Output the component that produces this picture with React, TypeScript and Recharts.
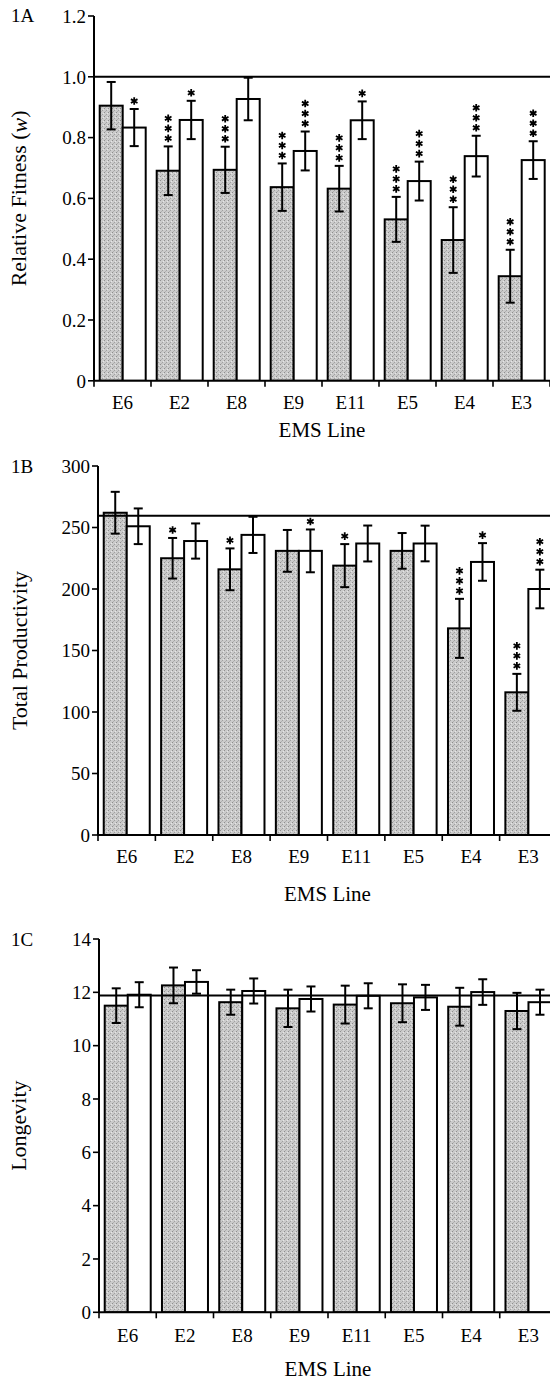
import React from 'react';
import { BarChart, Bar, XAxis, YAxis, ErrorBar, ReferenceLine } from 'recharts';

// EMS lines, in plotted order
const lines = ['E6', 'E2', 'E8', 'E9', 'E11', 'E5', 'E4', 'E3'];

// 1A relative fitness (w)
const fitGray = [0.905, 0.691, 0.694, 0.637, 0.632, 0.531, 0.463, 0.344];
const fitGrayErr = [0.078, 0.08, 0.076, 0.078, 0.075, 0.074, 0.108, 0.087];
const fitGrayStars = [0, 3, 3, 3, 3, 3, 3, 3];
const fitWhite = [0.833, 0.858, 0.927, 0.756, 0.857, 0.657, 0.739, 0.726];
const fitWhiteErr = [0.061, 0.063, 0.07, 0.064, 0.062, 0.064, 0.067, 0.062];
const fitWhiteStars = [1, 1, 0, 3, 1, 3, 3, 3];
const fitRef = 1.0;
const fitTicks = [0, 0.2, 0.4, 0.6, 0.8, 1.0, 1.2];

// 1B total productivity
const prodGray = [262, 225, 216, 231, 219, 231, 168, 116];
const prodGrayErr = [17, 16.5, 17, 17, 17.5, 14.5, 24, 15];
const prodGrayStars = [0, 1, 1, 0, 1, 0, 3, 3];
const prodWhite = [251, 239, 244, 231, 237, 237, 222, 200];
const prodWhiteErr = [14.5, 14.3, 14.7, 17.4, 14.6, 14.5, 15.3, 15.7];
const prodWhiteStars = [0, 0, 0, 1, 0, 0, 1, 3];
const prodRef = 259.5;
const prodTicks = [0, 50, 100, 150, 200, 250, 300];

// 1C longevity
const lonGray = [11.5, 12.26, 11.63, 11.4, 11.54, 11.59, 11.46, 11.3];
const lonGrayErr = [0.65, 0.67, 0.47, 0.7, 0.71, 0.71, 0.71, 0.68];
const lonWhite = [11.91, 12.39, 12.05, 11.75, 11.87, 11.81, 12.01, 11.63];
const lonWhiteErr = [0.47, 0.44, 0.47, 0.47, 0.47, 0.47, 0.48, 0.47];
const lonNoStars = [0, 0, 0, 0, 0, 0, 0, 0];
const lonRef = 11.88;
const lonTicks = [0, 2, 4, 6, 8, 10, 12, 14];

const FONT = '"Liberation Serif", "Times New Roman", serif';

const buildRows = (
  g: number[], gErr: number[], gStars: number[],
  w: number[], wErr: number[], wStars: number[]
) =>
  lines.map((name, i) => ({
    name,
    g: g[i], gErr: gErr[i], gStars: gStars[i],
    w: w[i], wErr: wErr[i], wStars: wStars[i],
  }));

function Star({ cx, cy }: { cx: number; cy: number }) {
  const r = 3.8;
  const d = [90, 30, 150]
    .map((a) => {
      const rad = (a * Math.PI) / 180;
      const dx = r * Math.cos(rad);
      const dy = r * Math.sin(rad);
      return `M${cx - dx},${cy - dy}L${cx + dx},${cy + dy}`;
    })
    .join('');
  return <path d={d} stroke="#000" strokeWidth={1.8} fill="none" />;
}

// bar rect plus significance stars above the error bar
const barShape = (valueKey: string, errKey: string, starKey: string, fill: string) => (props: any) => {
  const { x, y, width, height, payload } = props;
  const v = payload[valueKey];
  const k = v ? height / v : 0;
  const errTop = y - payload[errKey] * k;
  const n = payload[starKey] || 0;
  const cx = x + width / 2;
  return (
    <g>
      <rect x={x} y={y} width={width} height={height} fill={fill} stroke="#000" strokeWidth={2} />
      {Array.from({ length: n }, (_, j) => (
        <Star key={j} cx={cx} cy={errTop - 8 - j * 10} />
      ))}
    </g>
  );
};

// category label in the middle, tick marks on category boundaries
const xTick = (band: number, baseline: number) => (props: any) => {
  const { x, y, payload, index } = props;
  const axisY = y - 6;
  const last = index === lines.length - 1;
  return (
    <g>
      <line x1={x - band / 2} x2={x - band / 2} y1={axisY} y2={axisY + 6} stroke="#000" strokeWidth={1.6} />
      {last && (
        <line x1={x + band / 2} x2={x + band / 2} y1={axisY} y2={axisY + 6} stroke="#000" strokeWidth={1.6} />
      )}
      <text x={x} y={axisY + baseline} textAnchor="middle" fontSize={19} fontFamily={FONT} fill="#000">
        {payload.value}
      </text>
    </g>
  );
};

const yTitle = (content: React.ReactNode) => (props: any) => {
  const vb = props.viewBox || { y: 0, height: 0 };
  const cy = vb.y + vb.height / 2;
  return (
    <text
      x={19}
      y={cy}
      transform={`rotate(-90 19 ${cy})`}
      textAnchor="middle"
      dominantBaseline="central"
      fontSize={22}
      fontFamily={FONT}
      fill="#000"
    >
      {content}
    </text>
  );
};

interface PanelProps {
  top: number;
  width: number;
  axisX: number;
  plotH: number;
  axisH: number;
  tickBaseline: number;
  titleOffset: number;
  domain: [number, number];
  ticks: number[];
  fmt: (v: number) => string;
  refY: number;
  rows: any[];
  title: React.ReactNode;
}

function Panel(p: PanelProps) {
  const marginTop = 16;
  const band = (p.width - p.axisX) / lines.length;
  return (
    <div style={{ position: 'absolute', left: 0, top: p.top - marginTop }}>
      <BarChart
        width={p.width}
        height={marginTop + p.plotH + p.axisH}
        data={p.rows}
        margin={{ top: marginTop, right: 0, bottom: 0, left: 0 }}
        barCategoryGap="10%"
        barGap={0}
      >
        <XAxis
          dataKey="name"
          height={p.axisH}
          tickLine={false}
          tickSize={6}
          tickMargin={0}
          interval={0}
          axisLine={{ stroke: '#000', strokeWidth: 2 }}
          tick={xTick(band, p.tickBaseline)}
          label={{
            value: 'EMS Line',
            position: 'insideBottom',
            offset: p.titleOffset,
            fontSize: 21,
            fontFamily: FONT,
            fill: '#000',
          }}
        />
        <YAxis
          width={p.axisX}
          domain={p.domain}
          ticks={p.ticks}
          tickFormatter={p.fmt}
          allowDataOverflow
          tickSize={6}
          tickMargin={2}
          axisLine={{ stroke: '#000', strokeWidth: 2 }}
          tickLine={{ stroke: '#000', strokeWidth: 1.6 }}
          tick={{ fontSize: 19, fontFamily: FONT, fill: '#000' }}
          label={yTitle(p.title)}
        />
        <ReferenceLine y={p.refY} stroke="#000" strokeWidth={2} />
        <Bar dataKey="g" isAnimationActive={false} shape={barShape('g', 'gErr', 'gStars', 'url(#stipple)')}>
          <ErrorBar dataKey="gErr" width={4.5} strokeWidth={2} stroke="#000" direction="y" />
        </Bar>
        <Bar dataKey="w" isAnimationActive={false} shape={barShape('w', 'wErr', 'wStars', '#fff')}>
          <ErrorBar dataKey="wErr" width={4.5} strokeWidth={2} stroke="#000" direction="y" />
        </Bar>
      </BarChart>
    </div>
  );
}

export default function App() {
  const fitRows = buildRows(fitGray, fitGrayErr, fitGrayStars, fitWhite, fitWhiteErr, fitWhiteStars);
  const prodRows = buildRows(prodGray, prodGrayErr, prodGrayStars, prodWhite, prodWhiteErr, prodWhiteStars);
  const lonRows = buildRows(lonGray, lonGrayErr, lonNoStars, lonWhite, lonWhiteErr, lonNoStars);

  return (
    <div
      style={{
        position: 'absolute',
        left: 0,
        top: 0,
        width: 550,
        height: 1382,
        overflow: 'hidden',
        background: '#fff',
        fontFamily: FONT,
      }}
    >
      <svg width={550} height={1382} style={{ position: 'absolute', left: 0, top: 0 }}>
        <defs>
          <pattern id="stipple" width="4" height="4" patternUnits="userSpaceOnUse">
            <rect width="4" height="4" fill="#cbcbcb" />
            <rect x="0" y="0" width="1" height="1" fill="#8e8e8e" />
            <rect x="2" y="2" width="1" height="1" fill="#a0a0a0" />
            <rect x="3" y="1" width="1" height="1" fill="#e6e6e6" />
            <rect x="1" y="3" width="1" height="1" fill="#b0b0b0" />
          </pattern>
        </defs>
        <text x={11} y={22} fontSize={19} fontFamily={FONT} fill="#000">1A</text>
        <text x={11} y={472.7} fontSize={19} fontFamily={FONT} fill="#000">1B</text>
        <text x={11} y={945.7} fontSize={19} fontFamily={FONT} fill="#000">1C</text>
      </svg>

      <Panel
        top={15.7}
        width={550}
        axisX={94}
        plotH={364.8}
        axisH={66}
        tickBaseline={28}
        titleOffset={9.5}
        domain={[0, 1.2]}
        ticks={fitTicks}
        fmt={(v) => (v === 0 ? '0' : v.toFixed(1))}
        refY={fitRef}
        rows={fitRows}
        title={
          <>
            Relative Fitness (<tspan fontStyle="italic">w</tspan>)
          </>
        }
      />
      <Panel
        top={466}
        width={557}
        axisX={98}
        plotH={369}
        axisH={74}
        tickBaseline={28}
        titleOffset={8}
        domain={[0, 300]}
        ticks={prodTicks}
        fmt={(v) => String(v)}
        refY={prodRef}
        rows={prodRows}
        title="Total Productivity"
      />
      <Panel
        top={939}
        width={557}
        axisX={99}
        plotH={373.3}
        axisH={70}
        tickBaseline={30}
        titleOffset={5.8}
        domain={[0, 14]}
        ticks={lonTicks}
        fmt={(v) => String(v)}
        refY={lonRef}
        rows={lonRows}
        title="Longevity"
      />
    </div>
  );
}
